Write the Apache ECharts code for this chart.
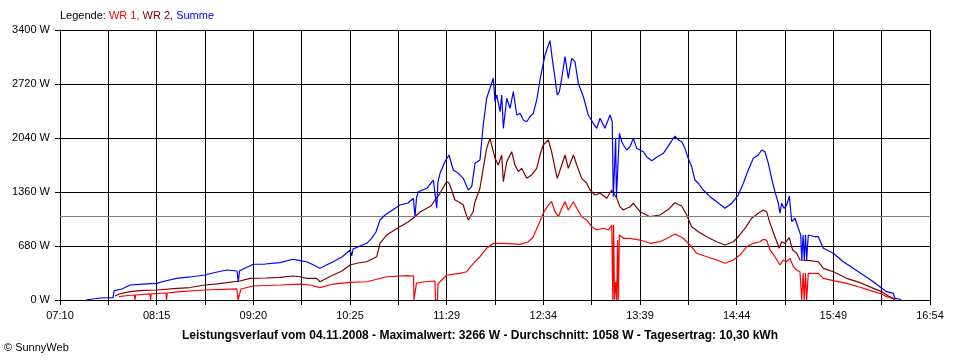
<!DOCTYPE html>
<html>
<head>
<meta charset="utf-8">
<script src="https://cdn.jsdelivr.net/npm/echarts@6/dist/echarts.min.js"></script>
<style>
html,body{margin:0;padding:0;background:#fff;}
#c{width:960px;height:360px;}
</style>
</head>
<body>
<div id="c"></div>
<script>
// time in minutes after 07:10, power in W
const startLabel = '07:10';
const tickLabels = ['07:10','08:15','09:20','10:25','11:29','12:34','13:39','14:44','15:49','16:54'];
const spanMinutes = 584;
const yTicks = [0, 680, 1360, 2040, 2720, 3400];
const durchschnitt = 1058;
const titleText = 'Leistungsverlauf vom 04.11.2008 - Maximalwert: 3266 W - Durchschnitt: 1058 W - Tagesertrag: 10,30 kWh';

const wr1 = [
[39.6,42],[45.6,57],[50.0,63],[50.3,0],[50.8,63],[60.4,76],[60.8,0],[61.2,76],[71.2,88],[71.5,0],[72.0,88],
[80.6,105],[97.3,126],[118.8,139],[119.5,0],[120.8,0],[121.5,139],[129.6,176],[147.7,189],[161.1,201],
[167.8,189],[174.5,155],[183.3,201],[194.7,223],[206.1,230],[219.3,293],[232.7,306],[237.3,302],
[237.6,0],[238.6,0],[239.3,214],[245.0,230],[251.7,239],[252.0,0],[253.4,0],[253.7,201],[255.1,230],
[259.6,315],[268.5,336],[273.0,356],[277.5,462],[281.9,545],[286.4,651],[290.9,714],[297.6,714],
[308.8,701],[314.4,734],[317.7,797],[321.1,944],[324.4,1092],[327.8,1196],[330.0,1238],[332.3,1112],
[334.5,1049],[336.8,1155],[339.0,1238],[341.2,1133],[344.6,1238],[346.9,1155],[350.2,1049],[353.6,1007],
[357.0,923],[360.3,881],[364.8,903],[368.2,881],[370.4,944],[371.1,0],[371.6,944],[372.2,0],[373.0,227],
[373.7,0],[374.3,755],[374.8,0],[375.5,818],[378.2,777],[382.6,777],[389.4,755],[396.1,714],[402.8,734],
[409.5,797],[412.8,831],[418.4,777],[422.9,693],[427.4,588],[434.1,545],[440.8,504],[446.4,462],
[452.0,504],[456.5,567],[461.0,671],[465.4,714],[469.9,734],[472.1,764],[474.3,755],[476.6,630],
[479.9,545],[483.3,441],[485.5,504],[487.8,482],[490.0,525],[492.3,419],[494.5,378],[496.7,356],
[497.9,0],[498.8,340],[499.6,0],[500.4,340],[501.2,0],[502.3,336],[509.0,336],[512.4,273],[519.1,243],
[528.1,210],[537.1,160],[546.0,105],[551.6,76],[554.9,42],[559.4,21],[560.5,0]
];

const wr2 = [
[36.9,50],[39.6,76],[47.0,105],[55.7,120],[65.1,126],[78.5,147],[87.3,157],[97.3,189],[104.0,201],
[112.1,218],[120.8,239],[127.5,273],[137.6,277],[147.7,286],[156.4,302],[161.1,293],[165.6,273],
[172.3,273],[174.5,230],[183.3,315],[189.3,365],[194.7,441],[200.0,466],[205.9,482],[212.6,545],
[214.8,714],[219.3,819],[223.5,869],[228.2,923],[233.6,982],[238.3,1049],[241.7,1108],[246.2,1155],
[249.0,1184],[251.7,1259],[255.1,1344],[257.1,1410],[259.6,1490],[261.1,1473],[262.9,1385],[265.1,1259],
[267.8,1234],[270.7,1196],[272.5,1083],[274.1,1007],[275.2,986],[277.2,1108],[278.6,1238],[281.9,1407],
[284.1,1658],[286.4,1910],[288.6,2036],[289.8,2056],[292.0,1784],[294.2,1700],[296.5,1826],[297.6,1490],
[299.9,1742],[303.2,1868],[305.4,1700],[307.7,1616],[309.9,1658],[313.3,1532],[316.6,1574],[320.0,1658],
[322.2,1826],[324.4,1952],[327.8,2015],[330.0,1868],[332.3,1658],[333.8,1532],[336.8,1700],[339.0,1826],
[341.2,1658],[344.6,1826],[346.9,1700],[350.2,1532],[353.6,1470],[355.8,1385],[359.1,1322],[362.5,1344],
[367.0,1281],[370.3,1385],[373.7,1281],[375.9,1175],[378.2,1133],[380.4,1155],[382.6,1171],[384.9,1218],
[389.4,1112],[396.1,1049],[402.8,1070],[408.4,1142],[412.8,1225],[417.3,1184],[420.7,1070],[424.0,923],
[428.5,860],[434.1,797],[440.8,734],[446.4,693],[452.0,734],[455.3,797],[459.8,903],[464.3,1029],
[468.7,1092],[472.1,1133],[474.3,1112],[476.6,966],[479.9,797],[482.8,651],[484.4,734],[486.6,714],
[489.5,785],[491.8,630],[494.5,588],[496.7,504],[503.4,495],[509.0,482],[512.4,399],[519.1,356],
[528.1,273],[537.1,218],[546.0,147],[551.6,105],[556.0,50],[559.4,21],[560.5,0]
];

const summe = [
[17.5,0],[26.9,25],[35.6,29],[36.4,117],[41.6,139],[47.0,189],[55.7,201],[64.9,210],[70.5,239],[78.3,273],
[87.3,290],[97.3,315],[104.0,346],[111.9,378],[118.8,365],[119.7,230],[120.5,365],[124.2,403],[127.5,428],
[129.6,450],[137.6,453],[147.7,470],[156.4,513],[161.1,495],[165.6,482],[167.8,462],[174.5,399],[183.3,482],
[189.3,541],[194.7,630],[195.8,554],[196.7,642],[201.4,680],[205.9,714],[209.2,777],[212.1,856],[214.8,1007],
[218.2,1070],[221.5,1112],[228.2,1196],[233.6,1221],[237.2,1281],[238.3,1049],[239.3,1284],[240.5,1364],
[246.2,1407],[250.6,1511],[252.9,1155],[253.7,1486],[255.1,1595],[258.4,1742],[261.1,1826],[264.0,1637],
[267.4,1595],[270.7,1532],[274.1,1385],[276.4,1427],[278.6,1721],[281.9,1763],[284.1,2204],[286.4,2540],
[288.6,2666],[290.9,2792],[292.0,2497],[293.2,2582],[295.4,2371],[296.5,2582],[297.6,2162],[299.9,2540],
[302.1,2414],[304.3,2623],[306.6,2330],[308.8,2351],[311.0,2267],[313.3,2245],[315.5,2308],[317.7,2351],
[320.0,2519],[322.2,2770],[324.4,2981],[325.6,3085],[327.1,3170],[328.9,3266],[330.7,3001],[332.3,2792],
[333.8,2582],[335.2,2623],[336.8,2792],[339.0,3064],[341.2,2792],[343.5,3043],[345.7,3001],[347.9,2729],
[351.3,2560],[354.6,2330],[358.0,2225],[360.3,2162],[362.5,2288],[365.8,2162],[369.2,2330],[370.7,2245],
[371.4,1301],[372.2,1301],[373.0,2040],[373.5,1284],[374.8,1281],[375.5,2099],[377.1,1993],[378.2,1952],
[380.4,1889],[382.6,1930],[384.9,2036],[387.1,1910],[391.6,1867],[393.8,1805],[397.2,1754],[400.5,1797],
[405.0,1847],[409.5,1973],[412.8,2065],[415.0,2015],[417.3,1993],[419.5,1910],[421.7,1784],[424.0,1679],
[426.2,1511],[428.5,1470],[431.8,1385],[436.3,1301],[440.8,1238],[446.4,1155],[450.9,1218],[455.3,1322],
[458.7,1470],[462.0,1637],[465.4,1784],[468.7,1826],[471.0,1889],[473.2,1867],[475.5,1721],[477.7,1532],
[479.9,1364],[482.2,1218],[483.3,1092],[484.4,1218],[486.0,1155],[487.8,1196],[489.6,1310],[491.2,986],
[493.4,1029],[495.6,903],[497.2,819],[497.9,504],[498.8,819],[499.6,504],[500.4,819],[501.2,504],
[502.3,819],[506.8,797],[509.0,797],[512.4,651],[519.1,588],[525.8,482],[532.5,399],[539.2,315],
[546.0,230],[551.6,147],[554.9,105],[559.4,84],[560.5,21],[563.9,9],[564.6,0]
];

const FONT = "'Liberation Sans', Arial, sans-serif";
const xStep = spanMinutes / 18;
const chart = echarts.init(document.getElementById('c'), null, {renderer: 'canvas'});

chart.setOption({
  backgroundColor: '#ffffff',
  animation: false,
  title: [
    {
      left: 60, top: 10,
      text: '{k|Legende: }{a|WR 1,}{b| WR 2,}{c| Summe}',
      textStyle: {
        fontFamily: FONT, fontSize: 11, fontWeight: 'normal',
        rich: {
          k: {color: '#000000', fontFamily: FONT, fontSize: 11},
          a: {color: '#ff0000', fontFamily: FONT, fontSize: 11},
          b: {color: '#800000', fontFamily: FONT, fontSize: 11},
          c: {color: '#0000ff', fontFamily: FONT, fontSize: 11}
        }
      },
      padding: 0
    },
    {
      left: 'center', top: 330, padding: 0,
      text: titleText,
      textStyle: {fontFamily: FONT, fontSize: 12, fontWeight: 'bold', color: '#000'}
    },
    {
      left: 4, top: 342, padding: 0,
      text: '© SunnyWeb',
      textStyle: {fontFamily: FONT, fontSize: 11, fontWeight: 'normal', color: '#000'}
    }
  ],
  grid: {left: 60, right: 30, top: 30, bottom: 60, containLabel: false},
  xAxis: {
    type: 'value', min: 0, max: spanMinutes, interval: xStep,
    axisLine: {show: true, lineStyle: {color: '#000', width: 1}},
    axisTick: {show: true, length: 5, lineStyle: {color: '#000', width: 1}},
    splitLine: {show: true, lineStyle: {color: '#000', width: 1}},
    axisLabel: {
      show: true, margin: 10, color: '#000', fontFamily: FONT, fontSize: 11,
      showMinLabel: true, showMaxLabel: true,
      formatter: function (v) {
        const i = Math.round(v / xStep);
        if (i % 2 !== 0) return '';
        return tickLabels[i / 2] || '';
      }
    }
  },
  yAxis: {
    type: 'value', min: yTicks[0], max: yTicks[yTicks.length - 1], interval: yTicks[1] - yTicks[0],
    axisLine: {show: true, lineStyle: {color: '#000', width: 1}},
    axisTick: {show: true, length: 5, lineStyle: {color: '#000', width: 1}},
    splitLine: {show: true, lineStyle: {color: '#000', width: 1}},
    axisLabel: {
      margin: 10, color: '#000', fontFamily: FONT, fontSize: 11,
      formatter: function (v) { return v + ' W'; }
    }
  },
  series: [
    {
      name: 'WR 1', type: 'line', data: wr1, showSymbol: false, symbol: 'none',
      lineStyle: {color: '#ff0000', width: 1.2}, z: 3,
      markLine: {
        silent: true, symbol: ['none', 'none'], label: {show: false},
        lineStyle: {color: '#808080', width: 1, type: 'solid'},
        data: [{yAxis: durchschnitt}]
      }
    },
    {
      name: 'WR 2', type: 'line', data: wr2, showSymbol: false, symbol: 'none',
      lineStyle: {color: '#800000', width: 1.2}, z: 4
    },
    {
      name: 'Summe', type: 'line', data: summe, showSymbol: false, symbol: 'none',
      lineStyle: {color: '#0000ff', width: 1.2}, z: 5
    }
  ]
});
</script>
</body>
</html>
